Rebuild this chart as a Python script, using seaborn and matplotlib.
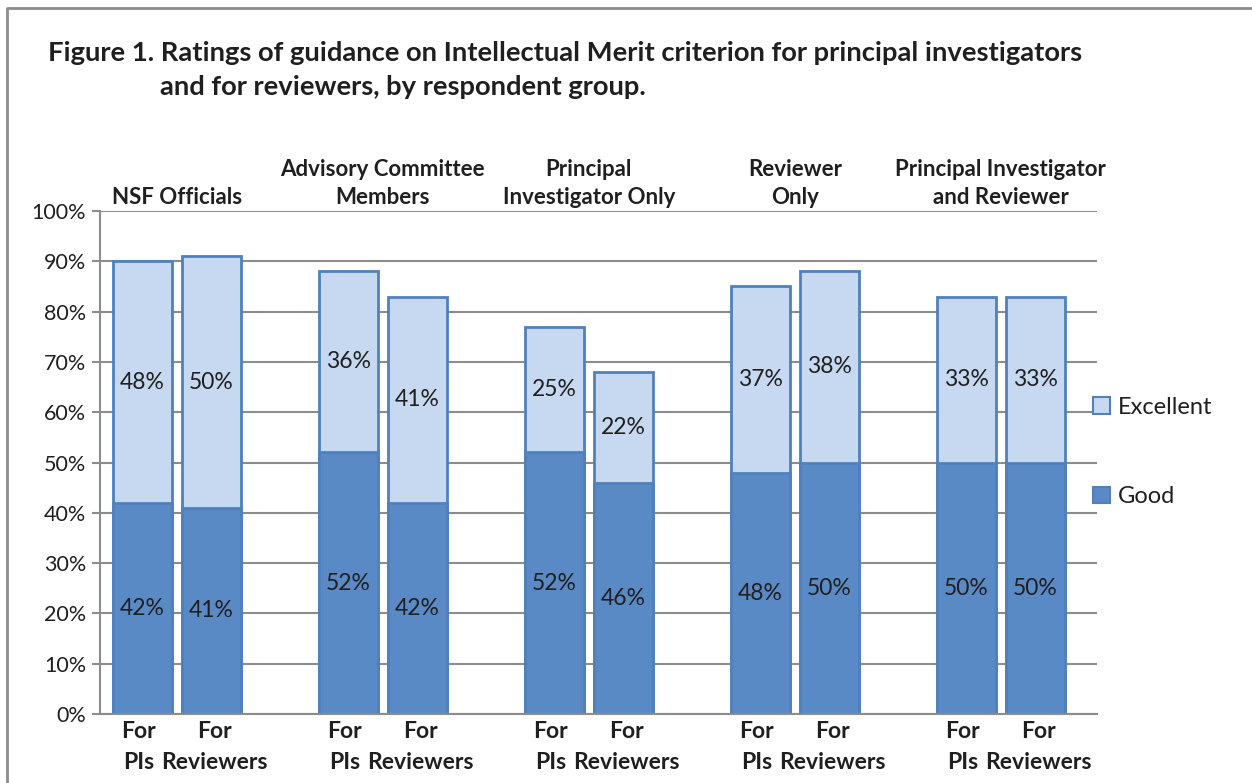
import pandas as pd
import matplotlib.pyplot as plt
from matplotlib.patches import Patch
from matplotlib.lines import Line2D
import seaborn as sns

## data
groups = ["NSF Officials", "Advisory Committee\nMembers", "Principal\nInvestigator Only",
          "Reviewer\nOnly", "Principal Investigator\nand Reviewer"]
bar_labels = ["For\nPIs", "For\nReviewers"]
good_pis = [42, 52, 52, 48, 50]
good_rev = [41, 42, 46, 50, 50]
exc_pis = [48, 36, 25, 37, 33]
exc_rev = [50, 41, 22, 38, 33]

#build long table, one row per bar, groups separated by an empty slot
rows = []
for g in range(len(groups)):
    rows.append(dict(pos=3 * g, label=bar_labels[0], good=good_pis[g], exc=exc_pis[g]))
    rows.append(dict(pos=3 * g + 1, label=bar_labels[1], good=good_rev[g], exc=exc_rev[g]))
df = pd.DataFrame(rows)
df["total"] = df["good"] + df["exc"]
df["good_f"] = df["good"] / 100
df["total_f"] = df["total"] / 100

light = "#C6D9F1"
dark = "#5A8AC6"
edge = "#4F81BD"
grey = "#8C8C8C"
txt = "#1f1f1f"

sns.set_theme(style="white")
plt.rcParams['font.family'] = ['Lato', 'DejaVu Sans']

fig = plt.figure(figsize=(12.52, 7.83), dpi=100)
ax = fig.add_axes([0.0799, 0.0881, 0.7963, 0.6424])

#stacked bars: total (excellent) behind, good in front
sns.barplot(data=df, x="pos", y="total_f", native_scale=True, width=0.86, color=light,
            saturation=1, edgecolor=edge, linewidth=2, errorbar=None, ax=ax)
sns.barplot(data=df, x="pos", y="good_f", native_scale=True, width=0.86, color=dark,
            saturation=1, edgecolor=edge, linewidth=2, errorbar=None, ax=ax)

#value labels
for _, r in df.iterrows():
    ax.text(r["pos"], r["good_f"] / 2, f"{r['good']}%", ha="center", va="center",
            fontsize=16.5, color=txt)
    ax.text(r["pos"], (r["good_f"] + r["total_f"]) / 2, f"{r['exc']}%", ha="center",
            va="center", fontsize=16.5, color=txt)

ax.set_xlim(-0.619, 13.9)
ax.set_ylim(0, 1)
ax.set_yticks([i / 10 for i in range(11)])
ax.set_yticklabels([f"{i * 10}%" for i in range(11)], fontsize=15.5, color=txt)
ax.set_xticks(df["pos"])
ax.set_xticklabels([])
#category labels under bars, nudged apart like the original (PIs left, Reviewers right)
for i, r in df.iterrows():
    dx = -3 if i % 2 == 0 else 2.5
    ax.annotate(r["label"], xy=(r["pos"], 0), xycoords=("data", "axes fraction"),
                xytext=(dx, -5), textcoords="offset points", ha="center", va="top",
                fontsize=16.5, fontweight="bold", color=txt, linespacing=1.6)
ax.set_xlabel("")
ax.set_ylabel("")
ax.grid(axis="y", color=grey, linewidth=1.5)
ax.set_axisbelow(True)
for s in ["top", "right"]:
    ax.spines[s].set_visible(False)
for s in ["left", "bottom"]:
    ax.spines[s].set_color(grey)
    ax.spines[s].set_linewidth(1.5)
ax.tick_params(axis="y", which="major", left=True, length=6, width=1.5, color=grey, pad=4)
ax.tick_params(axis="x", length=0, pad=5)

#group headers above plot
for g, name in enumerate(groups):
    ax.annotate(name, xy=(3 * g + 0.5, 1.0), xycoords=("data", "axes fraction"),
                xytext=(0, 2), textcoords="offset points", ha="center", va="bottom",
                fontsize=16, fontweight="bold", color=txt, linespacing=1.4)

#legend
handles = [Patch(facecolor=light, edgecolor=edge, linewidth=1.5, label="Excellent"),
           Patch(facecolor=dark, edgecolor=edge, linewidth=1.5, label="Good")]
fig.legend(handles=handles, loc="center left", bbox_to_anchor=(0.873, 0.4227),
           frameon=False, fontsize=17, handlelength=0.7, handleheight=0.7,
           handletextpad=0.35, labelspacing=2.9, borderpad=0, borderaxespad=0,
           labelcolor=txt)

#title
fig.text(48 / 1252, 1 - 61 / 783, "Figure 1. Ratings of guidance on Intellectual Merit criterion for principal investigators",
         fontsize=19.7, fontweight="bold", va="baseline", ha="left", color=txt)
fig.text(160 / 1252, 1 - 95 / 783, "and for reviewers, by respondent group.",
         fontsize=19.7, fontweight="bold", va="baseline", ha="left", color=txt)

#outer frame (top and left edges)
fig.add_artist(Line2D([7 / 1252, 7 / 1252, 1.0], [0.0, 1 - 8 / 783, 1 - 8 / 783],
                      transform=fig.transFigure, color=grey, linewidth=2))

plt.savefig("out.png", dpi=100)
